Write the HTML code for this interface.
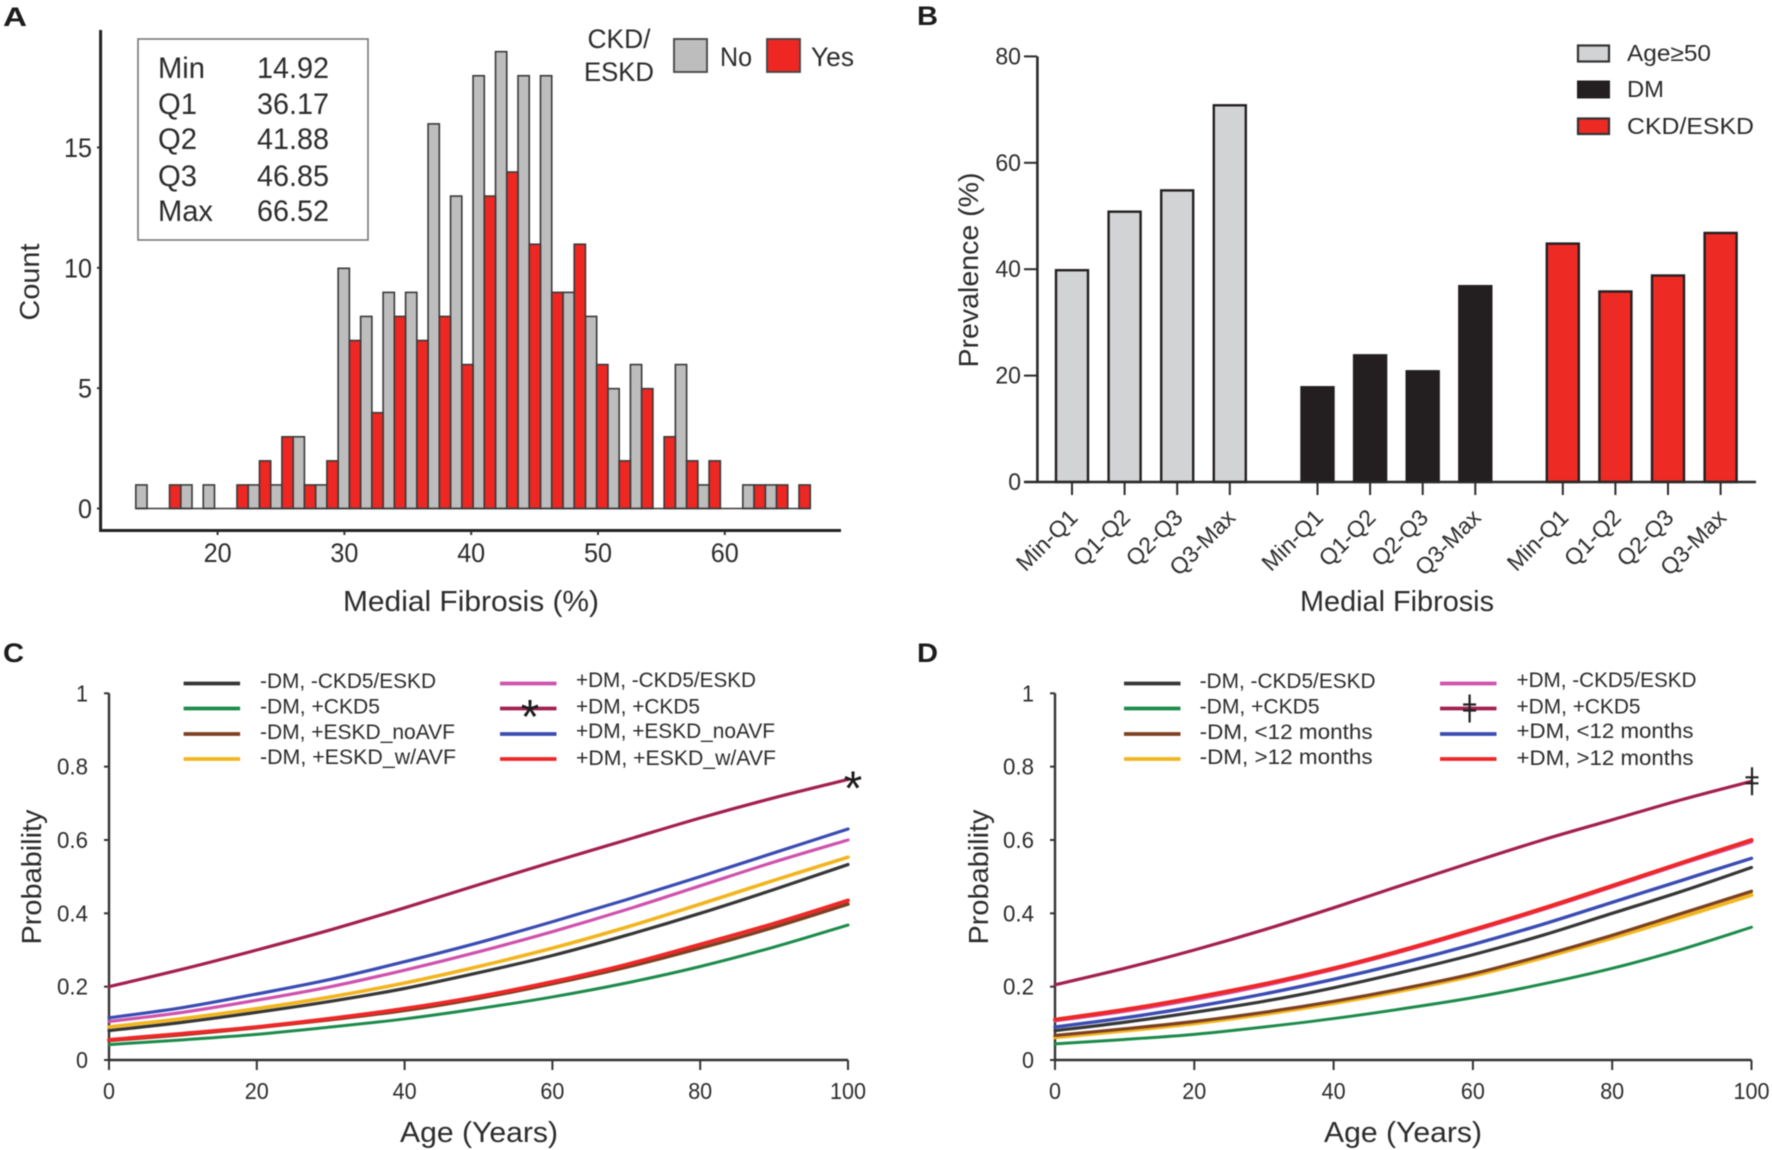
<!DOCTYPE html>
<html lang="en">
<head>
<meta charset="utf-8">
<title>Medial fibrosis figure</title>
<style>
html,body{margin:0;padding:0;background:#fff}
svg{display:block;filter:blur(.45px)}
text{font-family:"Liberation Sans",sans-serif;fill:#2c2c2c}
.pl{font-weight:bold;font-size:27px;fill:#1c1c1c}
</style>
</head>
<body>
<svg id="fig" xmlns="http://www.w3.org/2000/svg" width="1772" height="1150" viewBox="0 0 1772 1150">
<rect x="0" y="0" width="1772" height="1150" fill="#fff"/>
<g id="panelA">
<text class="pl" x="3" y="26" textLength="24" lengthAdjust="spacingAndGlyphs">A</text>
<rect x="138" y="39" width="230" height="201" fill="#fff" stroke="#777" stroke-width="1.6"/>
<g font-size="30">
<text x="158" y="78" textLength="47" lengthAdjust="spacingAndGlyphs">Min</text><text x="257" y="78" textLength="72" lengthAdjust="spacingAndGlyphs">14.92</text>
<text x="158" y="114" textLength="39" lengthAdjust="spacingAndGlyphs">Q1</text><text x="257" y="114" textLength="72" lengthAdjust="spacingAndGlyphs">36.17</text>
<text x="158" y="149" textLength="39" lengthAdjust="spacingAndGlyphs">Q2</text><text x="257" y="149" textLength="72" lengthAdjust="spacingAndGlyphs">41.88</text>
<text x="158" y="186" textLength="39" lengthAdjust="spacingAndGlyphs">Q3</text><text x="257" y="186" textLength="72" lengthAdjust="spacingAndGlyphs">46.85</text>
<text x="158" y="221" textLength="55" lengthAdjust="spacingAndGlyphs">Max</text><text x="257" y="221" textLength="72" lengthAdjust="spacingAndGlyphs">66.52</text>
</g>
<g font-size="27">
<text x="619" y="48" text-anchor="middle" textLength="63" lengthAdjust="spacingAndGlyphs">CKD/</text>
<text x="619" y="81" text-anchor="middle" textLength="70" lengthAdjust="spacingAndGlyphs">ESKD</text>
<rect x="674" y="39" width="33" height="33" fill="#bdbdbd" stroke="#444" stroke-width="1.8"/>
<text x="720" y="66" textLength="32" lengthAdjust="spacingAndGlyphs">No</text>
<rect x="767" y="39" width="33" height="33" fill="#ee2722" stroke="#444" stroke-width="1.8"/>
<text x="811" y="66" textLength="43" lengthAdjust="spacingAndGlyphs">Yes</text>
</g>
<text x="471" y="611" font-size="29" text-anchor="middle" textLength="256" lengthAdjust="spacingAndGlyphs">Medial Fibrosis (%)</text>
<text transform="translate(39,282) rotate(-90)" font-size="28" text-anchor="middle" textLength="77" lengthAdjust="spacingAndGlyphs">Count</text>
</g>
<g id="panelB">
<text class="pl" x="917" y="25" textLength="21" lengthAdjust="spacingAndGlyphs">B</text>
<g font-size="23">
<rect x="1578" y="45.5" width="31" height="16" fill="#d2d3d5" stroke="#333" stroke-width="2.2"/>
<text x="1627" y="61" textLength="84" lengthAdjust="spacingAndGlyphs">Age≥50</text>
<rect x="1578" y="81.5" width="31" height="16" fill="#231f20" stroke="#231f20" stroke-width="2"/>
<text x="1627" y="97" textLength="37" lengthAdjust="spacingAndGlyphs">DM</text>
<rect x="1578" y="118.5" width="31" height="15.5" fill="#ee2a24" stroke="#333" stroke-width="2.2"/>
<text x="1627" y="134" textLength="127" lengthAdjust="spacingAndGlyphs">CKD/ESKD</text>
</g>
<text x="1397" y="611" font-size="29" text-anchor="middle" textLength="194" lengthAdjust="spacingAndGlyphs">Medial Fibrosis</text>
<text transform="translate(978,270) rotate(-90)" font-size="28" text-anchor="middle" textLength="195" lengthAdjust="spacingAndGlyphs">Prevalence (%)</text>
</g>
<g id="panelC">
<text class="pl" x="3" y="662" textLength="21" lengthAdjust="spacingAndGlyphs">C</text>
<text x="479" y="1142" font-size="29" text-anchor="middle" textLength="158" lengthAdjust="spacingAndGlyphs">Age (Years)</text>
<text transform="translate(41,877) rotate(-90)" font-size="28" text-anchor="middle" textLength="135" lengthAdjust="spacingAndGlyphs">Probability</text>
</g>
<g id="panelD">
<text class="pl" x="917" y="662" textLength="21" lengthAdjust="spacingAndGlyphs">D</text>
<text x="1403" y="1142" font-size="29" text-anchor="middle" textLength="158" lengthAdjust="spacingAndGlyphs">Age (Years)</text>
<text transform="translate(988,877) rotate(-90)" font-size="28" text-anchor="middle" textLength="135" lengthAdjust="spacingAndGlyphs">Probability</text>
</g>
</svg>
<script>
// ---- Panel A data ----
const histBinStart = 13.55;
const histBinStep = 1.773;
const histNo  = [1,0,1,1,0,1,1,3,1,10,8,9,9,16,13,18,19,18,18,9,8,5,6,0,6,1,0,1,1,0];
const histYes = [0,1,0,0,1,2,3,1,2,7,4,8,7,8,6,13,14,11,9,11,6,2,5,3,2,2,0,1,1,1];
const histXTicks = [20,30,40,50,60];
const histYTicks = [0,5,10,15];

// ---- Panel B data ----
const prevGroups = ["age","dm","ckd"];
const prevCategories = ["Min-Q1","Q1-Q2","Q2-Q3","Q3-Max"];
const prevAge = [40,51,55,71];
const prevDm  = [18,24,21,37];
const prevCkd = [45,36,39,47];
const prevYTicks = [0,20,40,60,80];

// ---- Panels C/D data ----
const ageGrid = [0,10,20,30,40,50,60,70,80,90,100];
const probYTicks = [0,0.2,0.4,0.6,0.8,1];
const probYLabels = ["0","0.2","0.4","0.6","0.8","1"];
const ageTicks = [0,20,40,60,80,100];

const cBlack  = [.08,.103,.13,.16,.195,.238,.285,.34,.40,.465,.533];
const cGreen  = [.042,.055,.07,.09,.112,.14,.172,.21,.255,.308,.368];
const cBrown  = [.053,.069,.088,.11,.135,.168,.208,.253,.305,.362,.425];
const cYellow = [.09,.113,.14,.172,.21,.255,.305,.362,.425,.49,.553];
const cPink   = [.105,.13,.163,.20,.245,.295,.35,.41,.475,.54,.60];
const cMaroon = [.20,.248,.30,.355,.415,.478,.54,.60,.66,.715,.765];
const cBlue   = [.115,.143,.18,.22,.268,.32,.377,.437,.50,.565,.63];
const cRed    = [.055,.072,.09,.113,.14,.173,.213,.26,.315,.372,.435];

const dBlack  = [.08,.103,.13,.16,.197,.24,.287,.34,.40,.46,.525];
const dGreen  = [.044,.056,.07,.09,.113,.14,.17,.207,.25,.302,.362];
const dBrown  = [.067,.085,.105,.13,.16,.195,.235,.285,.34,.40,.46];
const dYellow = [.062,.08,.10,.125,.155,.19,.23,.279,.333,.39,.45];
const dPink   = [.107,.133,.165,.203,.247,.297,.352,.41,.472,.535,.595];
const dMaroon = [.205,.25,.30,.355,.415,.478,.54,.60,.655,.71,.76];
const dBlue   = [.09,.115,.145,.18,.22,.265,.315,.37,.43,.49,.55];
const dRed    = [.11,.137,.17,.207,.25,.30,.355,.413,.475,.538,.60];

const cLabelsLeft  = ["-DM, -CKD5/ESKD","-DM, +CKD5","-DM, +ESKD_noAVF","-DM, +ESKD_w/AVF"];
const cLabelsRight = ["+DM, -CKD5/ESKD","+DM, +CKD5","+DM, +ESKD_noAVF","+DM, +ESKD_w/AVF"];
const dLabelsLeft  = ["-DM, -CKD5/ESKD","-DM, +CKD5","-DM, <12 months","-DM, >12 months"];
const dLabelsRight = ["+DM, -CKD5/ESKD","+DM, +CKD5","+DM, <12 months","+DM, >12 months"];

const SVGNS = "http://www.w3.org/2000/svg";
function node(parent, tag, attrs, txt){
  const el = document.createElementNS(SVGNS, tag);
  for (const k in attrs) el.setAttribute(k, attrs[k]);
  if (txt !== undefined) el.textContent = txt;
  parent.appendChild(el);
  return el;
}
const panelA = document.getElementById('panelA');
const panelB = document.getElementById('panelB');
const panelC = document.getElementById('panelC');
const panelD = document.getElementById('panelD');
let el;

// ---- Panel A axes ----
const xA = v => 217.6 + (v - 20) * 12.68;
const yA = v => 508.5 - v * 24.07;
const slotW = histBinStep * 12.68 / 2;

histNo.forEach((v, k) => {
  const x0 = xA(histBinStart + k * histBinStep);
  if (v > 0) {
    el = node(panelA, 'rect', {x:x0, y:yA(v)+0.5, width:slotW, height:yA(0)-yA(v)-0.5, fill:'#bdbdbd', stroke:'#3a3a3a', 'stroke-width':1.6});
    
    
  }
});
histYes.forEach((v, k) => {
  const x0 = xA(histBinStart + k * histBinStep) + slotW;
  if (v > 0) {
    el = node(panelA, 'rect', {x:x0, y:yA(v)+0.5, width:slotW, height:yA(0)-yA(v)-0.5, fill:'#ee2722', stroke:'#3a3a3a', 'stroke-width':1.6});
    
    
  }
});
el = node(panelA, 'line', {x1:xA(histBinStart), x2:xA(histBinStart + histNo.length * histBinStep), y1:yA(0), y2:yA(0), stroke:'#3a3a3a', 'stroke-width':1.6});


el = node(panelA, 'path', {d:'M100.6 30V530.5H841', fill:'none', stroke:'#222', 'stroke-width':3});


histXTicks.forEach(t => {
  el = node(panelA, 'line', {x1:xA(t), x2:xA(t), y1:531, y2:535, stroke:'#333', 'stroke-width':2});
  
  
  el = node(panelA, 'text', {x:xA(t), y:562, 'font-size':27, 'text-anchor':'middle', textLength:28, lengthAdjust:'spacingAndGlyphs'}, String(t));
  
  
});
histYTicks.forEach(t => {
  el = node(panelA, 'line', {x1:97, x2:100, y1:yA(t), y2:yA(t), stroke:'#333', 'stroke-width':2});
  
  
  el = node(panelA, 'text', {x:92, y:yA(t)+9.5, 'font-size':27, 'text-anchor':'end', textLength:String(t).length*14, lengthAdjust:'spacingAndGlyphs'}, String(t));
  
  
});

// ---- Panel B axes ----
const yB = v => 482 - v * 5.32;
const groupStart = {age:1072, dm:1317.5, ckd:1562.8};
const xB = (g, i) => groupStart[g] + i * 52.6;
const barW = 32;
const groupFill = {age:'#d2d3d5', dm:'#231f20', ckd:'#ee2a24'};
const groupValues = {age:prevAge, dm:prevDm, ckd:prevCkd};

prevGroups.forEach(g => {
  groupValues[g].forEach((v, i) => {
    el = node(panelB, 'rect', {x:xB(g,i)-barW/2, y:yB(v)+1, width:barW, height:yB(0)-yB(v)-1, fill:groupFill[g], stroke:'#231f20', 'stroke-width':2.4});
    
    
    el = node(panelB, 'line', {x1:xB(g,i), x2:xB(g,i), y1:482, y2:495, stroke:'#2a2a2a', 'stroke-width':2});
    
    
    el = node(panelB, 'text', {transform:'translate(' + (xB(g,i)+7) + ',519) rotate(-45)', 'font-size':23, 'text-anchor':'end'}, prevCategories[i]);
    
    
  });
});
el = node(panelB, 'path', {d:'M1037.4 ' + yB(80) + 'V482M1024 482H1756', fill:'none', stroke:'#2a2a2a', 'stroke-width':2.6});


prevYTicks.forEach(t => {
  el = node(panelB, 'line', {x1:1024, x2:1037, y1:yB(t), y2:yB(t), stroke:'#2a2a2a', 'stroke-width':2});
  
  
  el = node(panelB, 'text', {x:1021, y:yB(t)+8, 'font-size':24, 'text-anchor':'end', textLength:String(t).length*12.8, lengthAdjust:'spacingAndGlyphs'}, String(t));
  
  
});

// ---- Panels C/D ----
const yP = v => 1060 - v * 366.7;
const xC = v => 109 + v * 7.39;
const xD = v => 1055 + v * 6.965;

function smoothPath(xs, ys, xf){
  const p = xs.map((x, i) => [xf(x), yP(ys[i])]);
  let d = 'M' + p[0][0] + ' ' + p[0][1];
  for (let i = 0; i < p.length - 1; i++) {
    const a = p[Math.max(0, i-1)], b = p[i], c = p[i+1], e = p[Math.min(p.length-1, i+2)];
    d += 'C' + (b[0]+(c[0]-a[0])/6) + ' ' + (b[1]+(c[1]-a[1])/6) + ' ' + (c[0]-(e[0]-b[0])/6) + ' ' + (c[1]-(e[1]-b[1])/6) + ' ' + c[0] + ' ' + c[1];
  }
  return d;
}

function axesProb(parent, xf, suffix){
  el = node(parent, 'path', {d:'M' + xf(0) + ' ' + yP(1) + 'V' + yP(0) + 'H' + xf(100), fill:'none', stroke:'#333', 'stroke-width':2.4});
  
  
  ageTicks.forEach(t => {
    el = node(parent, 'line', {x1:xf(t), x2:xf(t), y1:yP(0), y2:1070, stroke:'#333', 'stroke-width':2});
    
    
    el = node(parent, 'text', {x:xf(t), y:1099, 'font-size':23, 'text-anchor':'middle', textLength:(String(t).length*12), lengthAdjust:'spacingAndGlyphs'}, String(t));
    
    
  });
  probYTicks.forEach((t, i) => {
    el = node(parent, 'line', {x1:xf(0)-5, x2:xf(0), y1:yP(t), y2:yP(t), stroke:'#333', 'stroke-width':2});
    
    
    el = node(parent, 'text', {x:xf(0)-21, y:yP(t)+8, 'font-size':23, 'text-anchor':'end', textLength:(t === 0 || t === 1 ? 12 : 31), lengthAdjust:'spacingAndGlyphs'}, probYLabels[i]);
    
    
  });
}
axesProb(panelC, xC, 'c');
axesProb(panelD, xD, 'd');

const colBlack='#363636', colGreen='#1c8b4b', colBrown='#7c4020', colYellow='#f2b51e',
      colPink='#cf52ad', colMaroon='#a31f50', colBlue='#3a4cb3', colRed='#ef2727';

function curve(parent, ys, xf, col, w, nm){
  el = node(parent, 'path', {d:smoothPath(ageGrid, ys, xf), fill:'none', stroke:col, 'stroke-width':w, 'stroke-linecap':'round'});
  
  
}
curve(panelC, cBlack, xC, colBlack, 3.2, 'line-c-dm-neg-ckd-neg');
curve(panelC, cGreen, xC, colGreen, 3, 'line-c-dm-neg-ckd5');
curve(panelC, cBrown, xC, colBrown, 3.4, 'line-c-dm-neg-eskd-noavf');
curve(panelC, cYellow, xC, colYellow, 3.6, 'line-c-dm-neg-eskd-avf');
curve(panelC, cPink, xC, colPink, 3.2, 'line-c-dm-pos-ckd-neg');
curve(panelC, cMaroon, xC, colMaroon, 3.2, 'line-c-dm-pos-ckd5');
curve(panelC, cBlue, xC, colBlue, 3.2, 'line-c-dm-pos-eskd-noavf');
curve(panelC, cRed, xC, colRed, 3.8, 'line-c-dm-pos-eskd-avf');

curve(panelD, dBlack, xD, colBlack, 3.2, 'line-d-dm-neg-ckd-neg');
curve(panelD, dGreen, xD, colGreen, 3, 'line-d-dm-neg-ckd5');
curve(panelD, dYellow, xD, colYellow, 4, 'line-d-dm-neg-over-12');
curve(panelD, dBrown, xD, colBrown, 3.2, 'line-d-dm-neg-under-12');
curve(panelD, dPink, xD, colPink, 3.4, 'line-d-dm-pos-ckd-neg');
curve(panelD, dMaroon, xD, colMaroon, 3.2, 'line-d-dm-pos-ckd5');
curve(panelD, dBlue, xD, colBlue, 3.4, 'line-d-dm-pos-under-12');
curve(panelD, dRed, xD, colRed, 4, 'line-d-dm-pos-over-12');

// ---- legends C/D ----
const legendLineY = [683.5,708.5,734,759];
const leftTextY = [688,713.5,739,764];
const rightTextY = [687,713.5,738,765];
const leftColours = [colBlack,colGreen,colBrown,colYellow];
const rightColours = [colPink,colMaroon,colBlue,colRed];

function legendColumn(parent, labels, colours, lineX, textX, widths, textY, suffix){
  labels.forEach((label, i) => {
    el = node(parent, 'line', {x1:lineX, x2:lineX+56.5, y1:legendLineY[i], y2:legendLineY[i], stroke:colours[i], 'stroke-width':3.8});
    
    
    el = node(parent, 'text', {x:textX, y:textY[i], 'font-size':21, textLength:widths[i], lengthAdjust:'spacingAndGlyphs'}, label);
    
    
  });
}
legendColumn(panelC, cLabelsLeft, leftColours, 183.6, 260, [176,120,195,196], leftTextY, 'c-left');
legendColumn(panelC, cLabelsRight, rightColours, 500, 576, [180,124,199,200], rightTextY, 'c-right');
legendColumn(panelD, dLabelsLeft, leftColours, 1124, 1199.6, [176,120,173,173], leftTextY, 'd-left');
legendColumn(panelD, dLabelsRight, rightColours, 1440, 1516.5, [180,124,177,177], rightTextY, 'd-right');

// ---- significance markers ----
function star(parent, x, y, nm){
  el = node(parent, 'text', {x:x, y:y+26, 'font-size':48, 'text-anchor':'middle', style:'fill:#1c1c1c'}, '*');
  
  
}
star(panelC, 530, 707, 'significance-star-legend');
star(panelC, xC(100)+5, yP(cMaroon[10])-1, 'significance-star-line');

function dagger(parent, x, y, nm){
  el = node(parent, 'path', {d:'M' + x + ' ' + (y-14) + 'V' + (y+14) + 'M' + (x-6.5) + ' ' + (y-4) + 'H' + (x+6.5) + 'M' + (x-6.5) + ' ' + (y+2) + 'H' + (x+6.5), fill:'none', stroke:'#222', 'stroke-width':2.2});
  
  
}
dagger(panelD, 1469.6, 708.5, 'significance-dagger-legend');
dagger(panelD, xD(100)+0.5, yP(dMaroon[10]), 'significance-dagger-line');
</script>
</body>
</html>
